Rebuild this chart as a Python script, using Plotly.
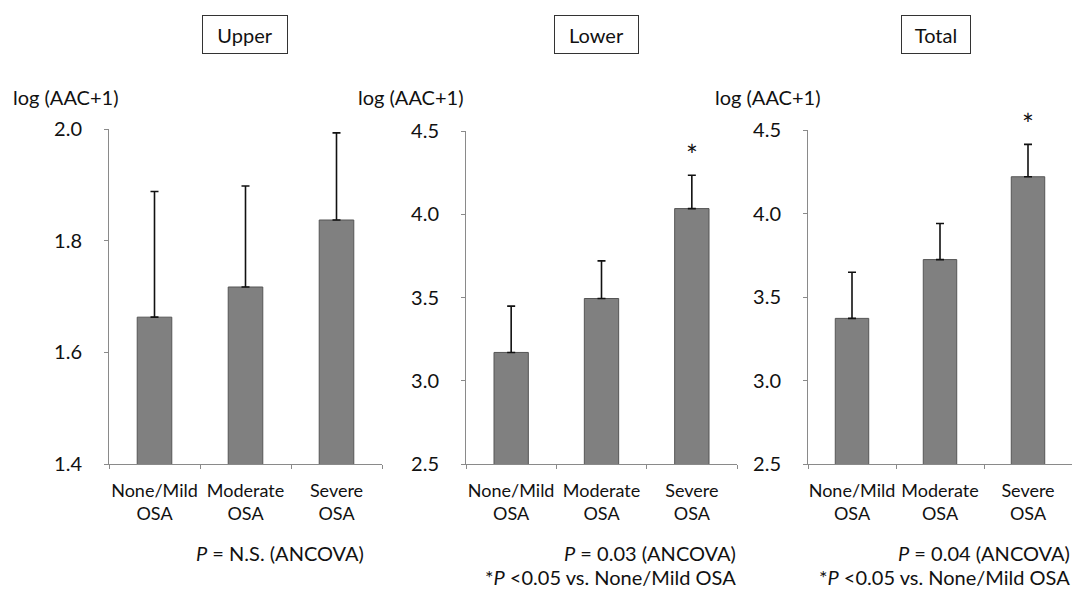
import plotly.graph_objects as go

categories = ["None/Mild<br>OSA", "Moderate<br>OSA", "Severe<br>OSA"]

panel_titles = ["Upper", "Lower", "Total"]

upper_means = [1.663, 1.717, 1.837]
upper_err = [0.225, 0.181, 0.156]

lower_means = [3.170, 3.494, 4.034]
lower_err = [0.278, 0.226, 0.200]

total_means = [3.372, 3.724, 4.220]
total_err = [0.276, 0.216, 0.194]

y_ranges = [[1.4, 2.0], [2.5, 4.5], [2.5, 4.5]]
y_dticks = [0.2, 0.5, 0.5]

significant = [[False, False, False], [False, False, True], [False, False, True]]

p_line1 = ["<i>P</i> = N.S. (ANCOVA)", "<i>P</i> = 0.03 (ANCOVA)", "<i>P</i> = 0.04 (ANCOVA)"]
p_line2 = ["", "*<i>P</i> <0.05 vs. None/Mild OSA", "*<i>P</i> <0.05 vs. None/Mild OSA"]

W, H = 1074, 591
FONT = "Lato"
TXT = "#111111"


def px(x):
    return x / W


def py(y):
    return 1 - y / H


x_domains = [[109, 382], [466, 737], [808, 1072]]
y_top = [129, 131, 130]
y_bottom = 464
title_centers = [245, 596.5, 936]
title_widths = [80, 79, 64]
ylabel_centers = [65, 410, 767]
p_right = [366, 738, 1072]

means_all = [upper_means, lower_means, total_means]
errs_all = [upper_err, lower_err, total_err]

fig = go.Figure()
annotations = []

for i in range(3):
    ax = "" if i == 0 else str(i + 1)
    fig.add_trace(go.Bar(
        x=categories,
        y=means_all[i],
        width=0.38,
        marker=dict(color="#808080", line=dict(color="#555555", width=1)),
        error_y=dict(type="data", symmetric=False, array=errs_all[i],
                     arrayminus=[0, 0, 0], color="#111111", thickness=1.6, width=4),
        xaxis="x" + ax, yaxis="y" + ax, showlegend=False,
    ))
    fig.update_layout(**{
        "xaxis" + ax: dict(
            domain=[px(x_domains[i][0]), px(x_domains[i][1])],
            anchor="y" + ax, type="category", range=[-0.5, 2.5],
            showline=True, linecolor="#8a8a8a", linewidth=1,
            ticks="outside", ticklen=4, tickcolor="#8a8a8a", tickson="boundaries",
            showgrid=False, tickfont=dict(family=FONT, size=18, color=TXT),
            tickangle=0, automargin=False,
            ticklabelstandoff=10,
        ),
        "yaxis" + ax: dict(
            domain=[py(y_bottom), py(y_top[i])],
            anchor="x" + ax, range=y_ranges[i], dtick=y_dticks[i], tickformat=".1f",
            showline=True, linecolor="#8a8a8a", linewidth=1,
            ticks="outside", ticklen=4, tickcolor="#8a8a8a",
            showgrid=False, zeroline=False, automargin=False,
            tickfont=dict(family=FONT, size=20, color=TXT),
            ticklabelstandoff=18,
        ),
    })
    # panel title box
    annotations.append(dict(
        x=px(title_centers[i]), y=py(34.5), xref="paper", yref="paper",
        text=panel_titles[i], showarrow=False, xanchor="center", yanchor="middle",
        font=dict(family=FONT, size=20, color=TXT),
        bordercolor="#333333", borderwidth=1, borderpad=2,
        width=title_widths[i], height=33, bgcolor="white",
    ))
    # y label
    annotations.append(dict(
        x=px(ylabel_centers[i]), y=py(97), xref="paper", yref="paper",
        text="log (AAC+1)", showarrow=False, xanchor="center", yanchor="middle",
        font=dict(family=FONT, size=20, color=TXT),
    ))
    # significance markers
    for j in range(3):
        if significant[i][j]:
            annotations.append(dict(
                x=categories[j], y=means_all[i][j] + errs_all[i][j],
                xref="x" + ax, yref="y" + ax, text="*", showarrow=False,
                xanchor="center", yanchor="middle", yshift=20,
                font=dict(family=FONT, size=28, color=TXT),
            ))
    # p-value texts
    annotations.append(dict(
        x=px(p_right[i]), y=py(553), xref="paper", yref="paper",
        text=p_line1[i], showarrow=False, xanchor="right", yanchor="middle",
        font=dict(family=FONT, size=20, color=TXT),
    ))
    if p_line2[i]:
        annotations.append(dict(
            x=px(p_right[i]), y=0, xref="paper", yref="paper",
            text=p_line2[i], showarrow=False, xanchor="right", yanchor="bottom",
            font=dict(family=FONT, size=20, color=TXT),
        ))

fig.update_layout(
    width=W, height=H,
    margin=dict(l=0, r=0, t=0, b=0),
    paper_bgcolor="white", plot_bgcolor="white",
    annotations=annotations,
    bargap=0.6,
)

fig.write_html(
    "out.html",
    config={"displayModeBar": False},
    post_script="document.body.style.margin='0';document.body.style.overflow='hidden';",
)
